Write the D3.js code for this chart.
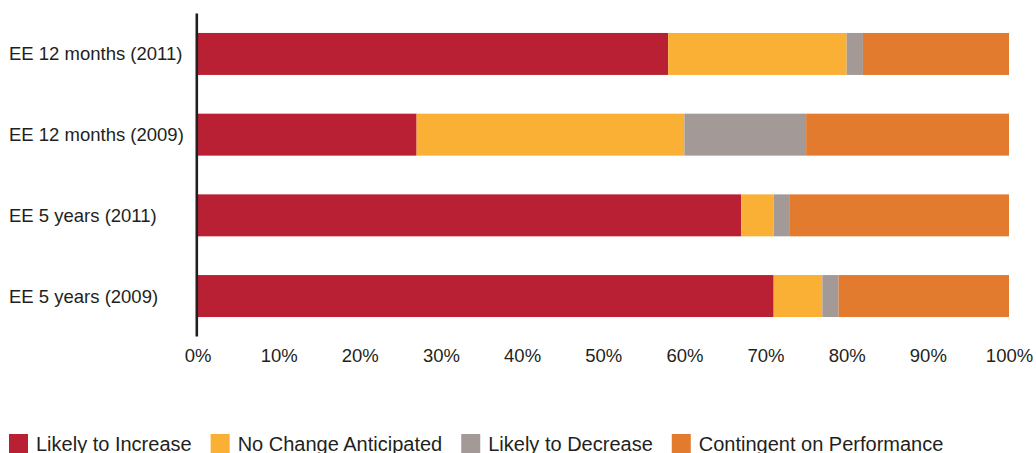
<!DOCTYPE html>
<html>
<head>
<meta charset="utf-8">
<script src="https://cdn.jsdelivr.net/npm/d3@7"></script>
<style>
  html, body { margin: 0; padding: 0; background: #fff; }
  svg { display: block; font-family: "Liberation Sans", Arial, Helvetica, sans-serif; }
</style>
</head>
<body>
<svg id="chart" width="1036" height="453"></svg>
<script>
const categories = ["EE 12 months (2011)", "EE 12 months (2009)", "EE 5 years (2011)", "EE 5 years (2009)"];
const seriesNames = ["Likely to Increase", "No Change Anticipated", "Likely to Decrease", "Contingent on Performance"];
const likelyIncrease = [58, 27, 67, 71];
const noChange = [22, 33, 4, 6];
const likelyDecrease = [2, 15, 2, 2];
const contingent = [18, 25, 27, 21];
const tickValues = [0, 10, 20, 30, 40, 50, 60, 70, 80, 90, 100];
const colors = ["#B92033", "#F9B035", "#A39A97", "#E27B2E"];

const seriesValues = [likelyIncrease, noChange, likelyDecrease, contingent];
const table = categories.map((c, i) => {
  const row = { category: c };
  seriesNames.forEach((s, j) => row[s] = seriesValues[j][i]);
  return row;
});

const svg = d3.select("#chart");
const x = d3.scaleLinear().domain([0, 100]).range([197.5, 1009]);
const y = d3.scaleBand().domain(categories).range([13.6, 336.4]).paddingInner(0.48).paddingOuter(0.24);
const color = d3.scaleOrdinal().domain(seriesNames).range(colors);

const stacked = d3.stack().keys(seriesNames)(table);

svg.append("g").selectAll("g").data(stacked).join("g")
  .attr("fill", d => color(d.key))
  .selectAll("rect").data(d => d).join("rect")
  .attr("x", d => x(d[0]))
  .attr("width", d => x(d[1]) - x(d[0]))
  .attr("y", d => y(d.data.category))
  .attr("height", y.bandwidth());

// y axis line
svg.append("line")
  .attr("x1", 196.8).attr("x2", 196.8)
  .attr("y1", y.range()[0]).attr("y2", y.range()[1])
  .attr("stroke", "#231f20").attr("stroke-width", 2.6);

// category labels (left aligned)
svg.append("g").selectAll("text").data(categories).join("text")
  .attr("x", 9)
  .attr("y", d => y(d) + y.bandwidth() / 2)
  .attr("dy", "0.35em")
  .attr("text-anchor", "start")
  .attr("font-size", 18.5)
  .attr("fill", "#231f20")
  .text(d => d);

// x tick labels
const xAxis = d3.axisBottom(x).tickValues(tickValues).tickSize(0).tickFormat(d => d + "%");
const gx = svg.append("g").attr("transform", "translate(0,346)").call(xAxis);
gx.select(".domain").remove();
gx.selectAll("text").attr("font-size", 18.5).attr("fill", "#231f20")
  .attr("font-family", "'Liberation Sans', Arial, sans-serif");

// legend
const legend = svg.append("g");
let lx = 9;
seriesNames.forEach((s, i) => {
  legend.append("rect").attr("x", lx).attr("y", 434).attr("width", 19).attr("height", 19).attr("fill", color(s));
  const t = legend.append("text").attr("x", lx + 27).attr("y", 450.5)
    .attr("font-size", 20).attr("fill", "#231f20").text(s);
  const w = t.node().getComputedTextLength();
  lx = lx + 27 + w + 19;
});
</script>
</body>
</html>
